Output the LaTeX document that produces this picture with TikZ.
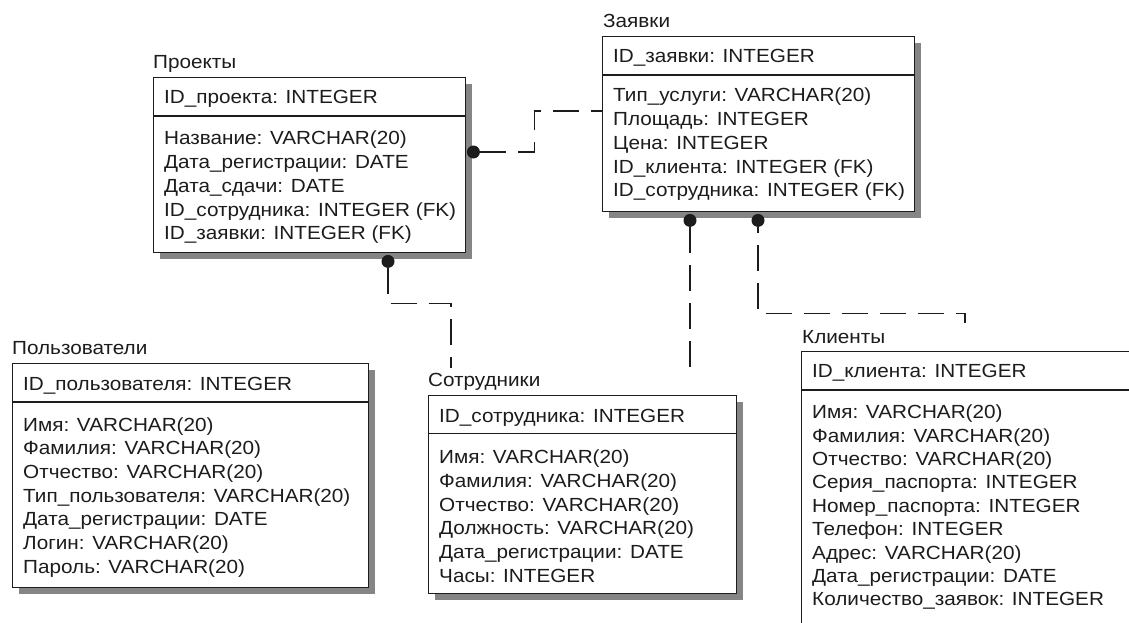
\documentclass[tikz,border=0pt]{standalone}
\usepackage{fontspec}
\setmainfont{Liberation Sans}[FakeStretch=1.09]
\usepackage{xcolor}
\usepackage{tikz}
\usetikzlibrary{positioning,calc,shadows}

\definecolor{inkgray}{HTML}{1C1C1C}
\definecolor{shadegray}{HTML}{858585}

\tikzset{
  entity/.style={draw=inkgray, line width=1.4pt, fill=white, anchor=north west, inner sep=0pt,
    drop shadow={shadow xshift=6pt, shadow yshift=-6pt, fill=shadegray, opacity=1}},
  attr/.style={anchor=base west, inner sep=0pt, text=inkgray, font=\fontsize{19}{23}\selectfont},
  tabletitle/.style={attr},
  keyline/.style={draw=inkgray, line width=1.4pt},
  rel/.style={draw=inkgray, line width=1.8pt, dash pattern=on 26pt off 12pt},
  fk/.style={circle, fill=inkgray, inner sep=0pt, minimum size=13pt},
}

\begin{document}
\begin{tikzpicture}[x=1pt, y=-1pt]
  \useasboundingbox (0,0) rectangle (1129,623);
  \fill[white] (0,0) rectangle (1129,623);
  \clip (0,0) rectangle (1129,623);

  % Проекты
  \node[entity, minimum width=312pt, minimum height=175pt] (proj) at (153,77) {};
  \draw[keyline] ($(proj.north west)+(0,39)$) -- ($(proj.north east)+(0,39)$);
  \node[tabletitle] (proj-title) at ($(proj.north west)+(0,-8.5)$) {Проекты};
  \node[attr] (proj-key) at ($(proj.north west)+(11,27)$) {ID\_проекта: INTEGER};
  \foreach \t [count=\i] in {Название: VARCHAR(20), Дата\_регистрации: DATE, Дата\_сдачи: DATE,
      ID\_сотрудника: INTEGER (FK), ID\_заявки: INTEGER (FK)} {
    \node[attr] (proj-\i) at ($(proj.north west)+(11,44.3+23.7*\i)$) {\t};
  }

  % Заявки
  \node[entity, minimum width=312pt, minimum height=175pt] (req) at (602,36) {};
  \draw[keyline] ($(req.north west)+(0,39)$) -- ($(req.north east)+(0,39)$);
  \node[tabletitle] (req-title) at ($(req.north west)+(1,-8.5)$) {Заявки};
  \node[attr] (req-key) at ($(req.north west)+(11,27)$) {ID\_заявки: INTEGER};
  \foreach \t [count=\i] in {Тип\_услуги: VARCHAR(20), Площадь: INTEGER, Цена: INTEGER,
      ID\_клиента: INTEGER (FK), ID\_сотрудника: INTEGER (FK)} {
    \node[attr] (req-\i) at ($(req.north west)+(11,42.3+23.7*\i)$) {\t};
  }

  % Пользователи
  \node[entity, minimum width=356pt, minimum height=224pt] (usr) at (12,363) {};
  \draw[keyline] ($(usr.north west)+(0,39)$) -- ($(usr.north east)+(0,39)$);
  \node[tabletitle] (usr-title) at ($(usr.north west)+(0,-8.5)$) {Пользователи};
  \node[attr] (usr-key) at ($(usr.north west)+(11,27)$) {ID\_пользователя: INTEGER};
  \foreach \t [count=\i] in {Имя: VARCHAR(20), Фамилия: VARCHAR(20), Отчество: VARCHAR(20),
      Тип\_пользователя: VARCHAR(20), Дата\_регистрации: DATE, Логин: VARCHAR(20),
      Пароль: VARCHAR(20)} {
    \node[attr] (usr-\i) at ($(usr.north west)+(11,44.3+23.7*\i)$) {\t};
  }

  % Сотрудники
  \node[entity, minimum width=308pt, minimum height=198pt] (emp) at (428,395) {};
  \draw[keyline] ($(emp.north west)+(0,38.5)$) -- ($(emp.north east)+(0,38.5)$);
  \node[tabletitle] (emp-title) at ($(emp.north west)+(0,-8.5)$) {Сотрудники};
  \node[attr] (emp-key) at ($(emp.north west)+(11,27)$) {ID\_сотрудника: INTEGER};
  \foreach \t [count=\i] in {Имя: VARCHAR(20), Фамилия: VARCHAR(20), Отчество: VARCHAR(20),
      Должность: VARCHAR(20), Дата\_регистрации: DATE, Часы: INTEGER} {
    \node[attr] (emp-\i) at ($(emp.north west)+(11,44.3+23.9*\i)$) {\t};
  }

  % Клиенты (runs past the right and bottom edges)
  \node[entity, minimum width=340pt, minimum height=290pt] (cli) at (801,351) {};
  \draw[keyline] ($(cli.north west)+(0,39)$) -- ($(cli.north east)+(0,39)$);
  \node[tabletitle] (cli-title) at ($(cli.north west)+(1,-8)$) {Клиенты};
  \node[attr] (cli-key) at ($(cli.north west)+(11,26)$) {ID\_клиента: INTEGER};
  \foreach \t [count=\i] in {Имя: VARCHAR(20), Фамилия: VARCHAR(20), Отчество: VARCHAR(20),
      Серия\_паспорта: INTEGER, Номер\_паспорта: INTEGER, Телефон: INTEGER,
      Адрес: VARCHAR(20), Дата\_регистрации: DATE, Количество\_заявок: INTEGER} {
    \node[attr] (cli-\i) at ($(cli.north west)+(11,44.3+23.4*\i)$) {\t};
  }

  % Relationship ends
  \node[fk] (d-proj-req) at ($(proj.north east)+(7,75)$) {};
  \node[fk] (d-proj-emp) at ($(proj.south west)+(235,8)$) {};
  \node[fk] (d-req-emp) at ($(req.south west)+(88,8)$) {};
  \node[fk] (d-req-cli) at ($(req.south west)+(156,8)$) {};
  \coordinate (c-emp-a) at ($(emp.north west)+(23,-27)$);
  \coordinate (c-emp-b) at ($(emp.north west)+(262,-27)$);
  \coordinate (c-cli) at ($(cli.north west)+(164,-28)$);

  % Dashed relationships
  \draw[rel] (d-proj-req) -- ++(61,0) |- ($(req.north west)+(0,75)$);
  \draw[rel] (d-proj-emp) -- ++(0,42) -| (c-emp-a);
  \draw[rel] (d-req-emp) -- (c-emp-b);
  \draw[rel, dash phase=20pt] (d-req-cli) -- ++(0,93) -| (c-cli);
\end{tikzpicture}
\end{document}
